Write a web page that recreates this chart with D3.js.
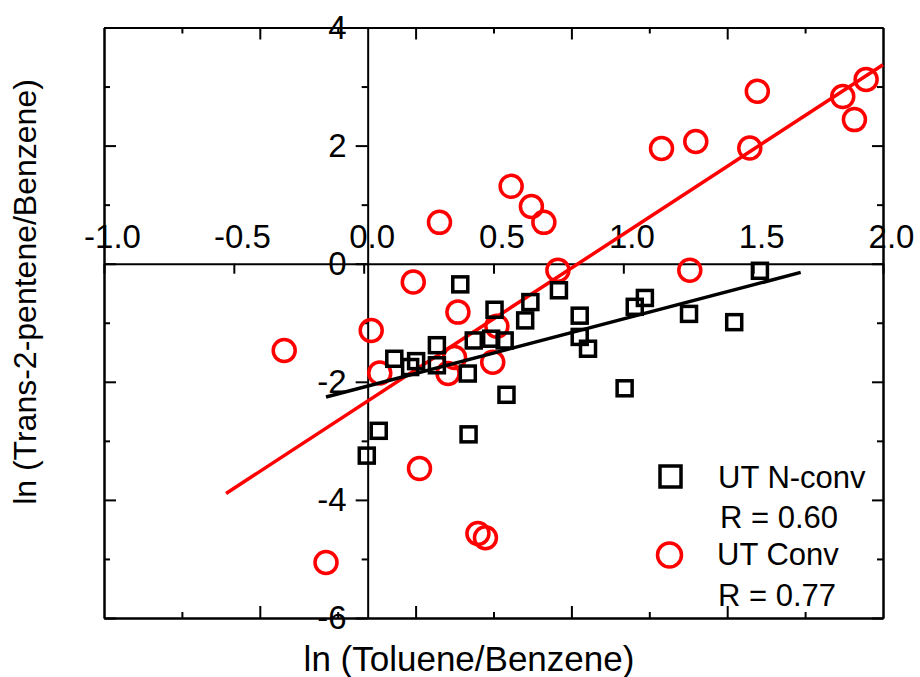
<!DOCTYPE html>
<html lang="en">
<head>
<meta charset="UTF-8">
<title>ln (Trans-2-pentene/Benzene) vs ln (Toluene/Benzene)</title>
<script src="https://d3js.org/d3.v7.min.js"></script>
<style>
  body { margin: 0; background: #fff; }
  svg { display: block; font-family: "Liberation Sans", Arial, sans-serif; }
  .frame path, .frame line, .axis path, .axis line { stroke: #000; stroke-width: 2; }
  .axis text { font-size: 33px; fill: #000; font-family: "Liberation Sans", Arial, sans-serif; }
  .title { font-size: 32px; fill: #000; }
  .legend text { font-size: 31px; fill: #000; }
</style>
</head>
<body>
<svg width="920" height="677"></svg>
<script>
// UT N-conv (squares)
const nconvX = [0.012, 0.058, 0.118, 0.179, 0.202, 0.282, 0.282, 0.372, 0.401, 0.404, 0.424, 0.491, 0.504, 0.543,
                0.550, 0.622, 0.642, 0.752, 0.832, 0.832, 0.864, 1.005, 1.044, 1.083, 1.253, 1.427, 1.526];
const nconvY = [-3.25, -2.83, -1.61, -1.75, -1.65, -1.38, -1.72, -0.35, -1.86, -2.89, -1.30, -1.27, -0.78, -1.30,
                -2.22, -0.96, -0.65, -0.45, -0.88, -1.24, -1.44, -2.11, -0.73, -0.58, -0.85, -0.99, -0.12];
// UT Conv (circles)
const convX = [-0.306, -0.145, 0.029, 0.062, 0.191, 0.215, 0.292, 0.325, 0.350, 0.363, 0.440, 0.469, 0.497,
               0.513, 0.568, 0.646, 0.694, 0.748, 1.147, 1.256, 1.279, 1.487, 1.516, 1.845, 1.890, 1.935];
const convY = [-1.47, -5.06, -1.13, -1.85, -0.31, -3.47, 0.70, -1.86, -1.59, -0.82, -4.57, -4.64, -1.67,
               -1.06, 1.31, 0.97, 0.70, -0.11, 1.95, -0.11, 2.07, 1.96, 2.92, 2.83, 2.44, 3.12];

// linear fits: [slope, intercept] and x extent
const nconvFit = [1.154, -2.09];
const nconvFitRange = [-0.145, 1.683];
const convFit = [2.87, -2.37];
const convFitRange = [-0.53, 2.0];

const xTicks = [-1.0, -0.5, 0, 0.5, 1.0, 1.5, 2.0];
const xTickLabels = ["-1.0", "-0.5", "0.0", "0.5", "1.0", "1.5", "2.0"];
const yTicks = [-6, -4, -2, 0, 2, 4];
const yTickLabels = ["-6", "-4", "-2", "0", "2", "4"];
const yMinorTicks = [-5, -3, -1, 1, 3];
const frameXMajor = [-0.4, 0.2, 0.8, 1.4];
const frameXMinor = [-0.7, -0.1, 0.5, 1.1, 1.7];

const legendNames = ["UT N-conv", "UT Conv"];
const legendStats = ["R = 0.60", "R = 0.77"];

const svg = d3.select("svg");
const margin = {top: 27.5, right: 37, bottom: 59, left: 104},
      width = +svg.attr("width") - margin.left - margin.right,
      height = +svg.attr("height") - margin.top - margin.bottom;

const g = svg.append("g").attr("transform", `translate(${margin.left},${margin.top})`);
const x = d3.scaleLinear().domain([-1, 2]).range([0, width]);
const y = d3.scaleLinear().domain([-6, 4]).range([height, 0]);

// frame with its own inward ticks
const noLabel = () => "";
g.append("g").attr("class", "frame")
  .call(d3.axisRight(y).tickValues(yTicks).tickSize(12).tickSizeOuter(0).tickFormat(noLabel));
g.append("g").attr("class", "frame")
  .call(d3.axisRight(y).tickValues(yMinorTicks).tickSize(6).tickSizeOuter(0).tickFormat(noLabel));
g.append("g").attr("class", "frame").attr("transform", `translate(${width},0)`)
  .call(d3.axisLeft(y).tickValues(yTicks).tickSize(11).tickSizeOuter(0).tickFormat(noLabel));
g.append("g").attr("class", "frame").attr("transform", `translate(${width},0)`)
  .call(d3.axisLeft(y).tickValues(yMinorTicks).tickSize(6).tickSizeOuter(0).tickFormat(noLabel));
g.append("g").attr("class", "frame")
  .call(d3.axisBottom(x).tickValues(frameXMajor).tickSize(12).tickSizeOuter(0).tickFormat(noLabel));
g.append("g").attr("class", "frame")
  .call(d3.axisBottom(x).tickValues(frameXMinor).tickSize(6).tickSizeOuter(0).tickFormat(noLabel));
g.append("g").attr("class", "frame").attr("transform", `translate(0,${height})`)
  .call(d3.axisTop(x).tickValues(frameXMajor).tickSize(12).tickSizeOuter(0).tickFormat(noLabel));
g.append("g").attr("class", "frame").attr("transform", `translate(0,${height})`)
  .call(d3.axisTop(x).tickValues(frameXMinor).tickSize(6).tickSizeOuter(0).tickFormat(noLabel));

// x axis through y = 0, labels sit above the line
g.append("g").attr("class", "axis").attr("transform", `translate(0,${y(0)})`)
  .call(d3.axisBottom(x).tickValues(xTicks).tickSize(10).tickSizeOuter(0)
    .tickFormat((d, i) => xTickLabels[i]))
  .call(a => a.selectAll("text").attr("y", -16).attr("dy", 0).attr("dx", 8));

// y axis through x = 0 (drawn a few px right of zero, as in the source)
const yAxisX = x(0) + 4;
g.append("g").attr("class", "axis").attr("transform", `translate(${yAxisX},0)`)
  .call(d3.axisLeft(y).tickValues(yTicks).tickSize(12).tickPadding(9).tickSizeOuter(0)
    .tickFormat((d, i) => yTickLabels[i]));
g.append("g").attr("class", "axis").attr("transform", `translate(${yAxisX},0)`)
  .call(d3.axisLeft(y).tickValues(yMinorTicks).tickSize(6).tickSizeOuter(0).tickFormat(noLabel))
  .call(a => a.select(".domain").remove());
g.selectAll(".axis text").attr("font-family", null).attr("font-size", null);

// fit lines + markers
const fitLine = (fit, range) => range.map(v => [x(v), y(fit[0] * v + fit[1])]);

g.append("g").selectAll("circle")
  .data(convX.map((v, i) => [v, convY[i]]))
  .join("circle")
  .attr("cx", d => x(d[0])).attr("cy", d => y(d[1])).attr("r", 11)
  .attr("fill", "none").attr("stroke", "#ff0000").attr("stroke-width", 3.5);

g.append("path").attr("d", d3.line()(fitLine(convFit, convFitRange)))
  .attr("stroke", "#ff0000").attr("stroke-width", 3.5).attr("fill", "none");

const sq = 15;
g.append("g").selectAll("rect")
  .data(nconvX.map((v, i) => [v, nconvY[i]]))
  .join("rect")
  .attr("x", d => x(d[0]) - sq / 2).attr("y", d => y(d[1]) - sq / 2)
  .attr("width", sq).attr("height", sq)
  .attr("fill", "none").attr("stroke", "#000").attr("stroke-width", 3.5);

g.append("path").attr("d", d3.line()(fitLine(nconvFit, nconvFitRange)))
  .attr("stroke", "#000").attr("stroke-width", 3.5).attr("fill", "none");

// axis titles
svg.append("text").attr("class", "title")
  .attr("x", 469).attr("y", 671).attr("text-anchor", "middle").style("font-size", "35px")
  .text("ln (Toluene/Benzene)");
svg.append("text").attr("class", "title")
  .attr("transform", "translate(36,292) rotate(-90)").attr("text-anchor", "middle")
  .text("ln (Trans-2-pentene/Benzene)");

// legend
const legend = svg.append("g").attr("class", "legend");
legend.append("rect").attr("x", 660).attr("y", 466).attr("width", 21).attr("height", 21)
  .attr("fill", "none").attr("stroke", "#000").attr("stroke-width", 3.5);
legend.append("circle").attr("cx", 669.5).attr("cy", 555).attr("r", 12)
  .attr("fill", "none").attr("stroke", "#ff0000").attr("stroke-width", 3.5);
legend.selectAll("text.name").data(legendNames).join("text").attr("class", "name")
  .attr("x", (d, i) => i ? 717 : 718).attr("y", (d, i) => i ? 565 : 488).text(d => d);
legend.selectAll("text.stat").data(legendStats).join("text").attr("class", "stat")
  .attr("x", (d, i) => i ? 718 : 720).attr("y", (d, i) => i ? 606 : 528).text(d => d);
</script>
</body>
</html>
